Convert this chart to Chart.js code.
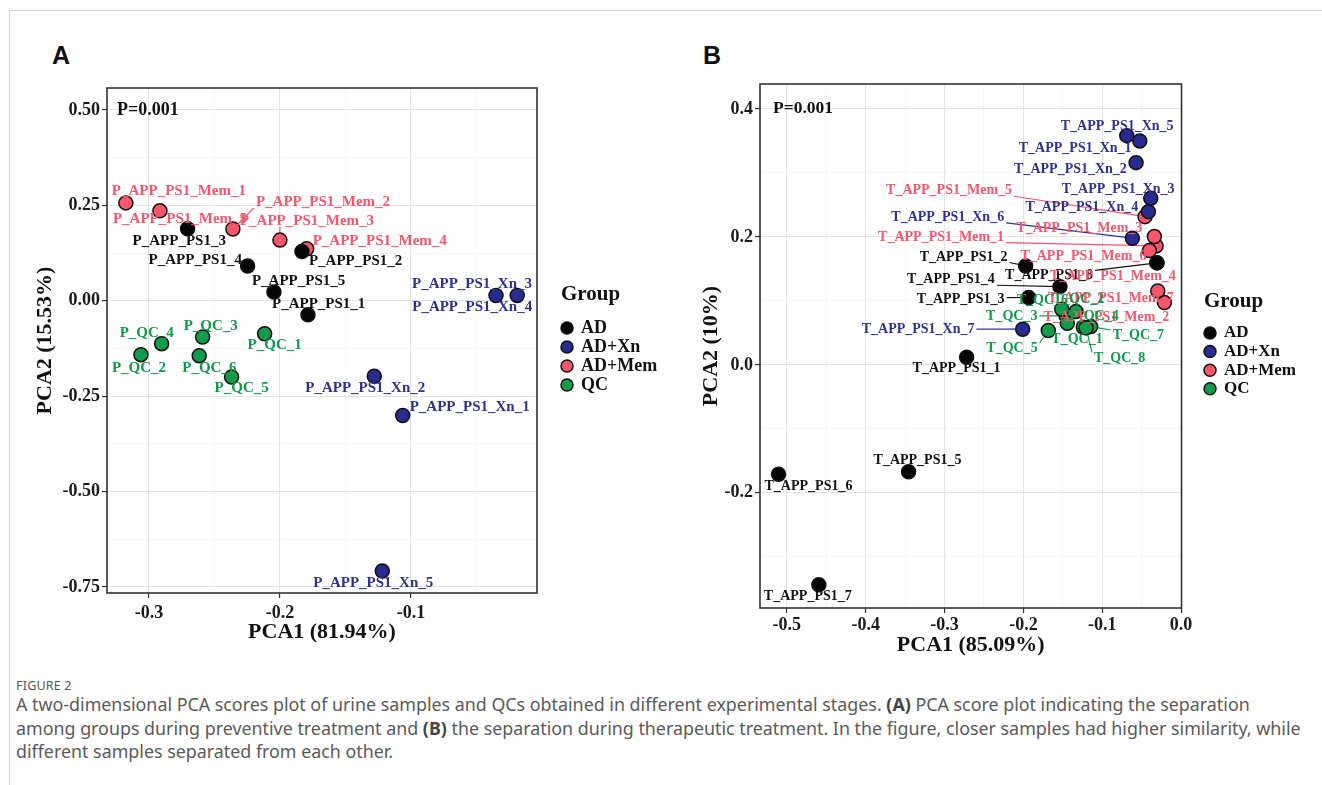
<!DOCTYPE html>
<html>
<head>
<meta charset="utf-8">
<script src="https://cdn.jsdelivr.net/npm/chart.js@4.4.1/dist/chart.umd.min.js"></script>
<style>
  html, body { margin: 0; padding: 0; background: #fff; }
  body { width: 1322px; height: 785px; position: relative; overflow: hidden; font-family: "Noto Sans", sans-serif; }
  .card { position: absolute; left: 9px; top: 10px; right: -2px; bottom: -2px; border-top: 1px solid #d4d4d4; border-left: 1px solid #d4d4d4; }
  .tag { position: absolute; font: bold 25px "Liberation Sans", Arial, sans-serif; color: #111; line-height: 25px; }
  canvas { position: absolute; }
  .figlabel { position: absolute; left: 16px; top: 678px; font-size: 12.5px; line-height: 16px; color: #555; letter-spacing: 0.2px; }
  .caption { position: absolute; left: 16px; top: 693px; width: 1300px; font-size: 17.85px; line-height: 23.5px; color: #5a5a5a; margin: 0; white-space: nowrap; }
  .caption b { color: #444; }
</style>
</head>
<body>
<div class="card"></div>
<div class="tag" style="left:52px;top:43px;">A</div>
<div class="tag" style="left:703px;top:43px;">B</div>
<canvas id="pcaA" width="660" height="590" style="left:20px;top:70px;"></canvas>
<canvas id="pcaB" width="642" height="610" style="left:680px;top:65px;"></canvas>
<div class="figlabel">FIGURE 2</div>
<p class="caption">A two-dimensional PCA scores plot of urine samples and QCs obtained in different experimental stages. <b>(A)</b> PCA score plot indicating the separation<br>among groups during preventive treatment and <b>(B)</b> the separation during therapeutic treatment. In the figure, closer samples had higher similarity, while<br>different samples separated from each other.</p>

<script>
const groupNames = ['AD', 'AD+Xn', 'AD+Mem', 'QC'];

// ---- panel A (preventive) ----
const aAdNames = ['P_APP_PS1_1', 'P_APP_PS1_2', 'P_APP_PS1_3', 'P_APP_PS1_4', 'P_APP_PS1_5'];
const aAdX = [-0.1786, -0.1832, -0.2705, -0.2247, -0.2046];
const aAdY = [-0.0366, 0.1291, 0.1885, 0.0908, 0.0228];

const aXnNames = ['P_APP_PS1_Xn_1', 'P_APP_PS1_Xn_2', 'P_APP_PS1_Xn_3', 'P_APP_PS1_Xn_4', 'P_APP_PS1_Xn_5'];
const aXnX = [-0.1063, -0.128, -0.0351, -0.0189, -0.1219];
const aXnY = [-0.301, -0.1979, 0.0139, 0.0139, -0.7086];

const aMemNames = ['P_APP_PS1_Mem_1', 'P_APP_PS1_Mem_2', 'P_APP_PS1_Mem_3', 'P_APP_PS1_Mem_4', 'P_APP_PS1_Mem_5'];
const aMemX = [-0.3176, -0.2359, -0.2, -0.1796, -0.2916];
const aMemY = [0.2565, 0.188, 0.1589, 0.1361, 0.2356];

const aQcNames = ['P_QC_1', 'P_QC_2', 'P_QC_3', 'P_QC_4', 'P_QC_5', 'P_QC_6'];
const aQcX = [-0.2117, -0.3061, -0.259, -0.2903, -0.2369, -0.2616];
const aQcY = [-0.0864, -0.1414, -0.0951, -0.1126, -0.1998, -0.144];

const aXTicks = [-0.3, -0.2, -0.1];
const aXTickLabels = ['-0.3', '-0.2', '-0.1'];
const aXMinor = [-0.25, -0.15, -0.05];
const aYTicks = [0.5, 0.25, 0, -0.25, -0.5, -0.75];
const aYTickLabels = ['0.50', '0.25', '0.00', '-0.25', '-0.50', '-0.75'];
const aYMinor = [0.375, 0.125, -0.125, -0.375, -0.625];

// ---- panel B (therapeutic) ----
const bAdNames = ['T_APP_PS1_1', 'T_APP_PS1_2', 'T_APP_PS1_3', 'T_APP_PS1_4', 'T_APP_PS1_5', 'T_APP_PS1_6', 'T_APP_PS1_7', 'T_APP_PS1_8'];
const bAdX = [-0.272, -0.1971, -0.1933, -0.1536, -0.3456, -0.5105, -0.4594, -0.0305];
const bAdY = [0.012, 0.1547, 0.1052, 0.1223, -0.1672, -0.1708, -0.3438, 0.1594];

const bXnNames = ['T_APP_PS1_Xn_1', 'T_APP_PS1_Xn_2', 'T_APP_PS1_Xn_3', 'T_APP_PS1_Xn_4', 'T_APP_PS1_Xn_5', 'T_APP_PS1_Xn_6', 'T_APP_PS1_Xn_7'];
const bXnX = [-0.0689, -0.0571, -0.0385, -0.0415, -0.0524, -0.0618, -0.2009];
const bXnY = [0.3583, 0.3161, 0.2605, 0.2395, 0.35, 0.198, 0.0558];

const bMemNames = ['T_APP_PS1_Mem_1', 'T_APP_PS1_Mem_2', 'T_APP_PS1_Mem_3', 'T_APP_PS1_Mem_4', 'T_APP_PS1_Mem_5', 'T_APP_PS1_Mem_6', 'T_APP_PS1_Mem_7'];
const bMemX = [-0.0317, -0.0212, -0.0339, -0.0308, -0.0457, -0.0402, -0.0296];
const bMemY = [0.1859, 0.0973, 0.2005, 0.1598, 0.2317, 0.1786, 0.1156];

const bQcNames = ['T_QC_1', 'T_QC_2', 'T_QC_3', 'T_QC_4', 'T_QC_5', 'T_QC_6', 'T_QC_7', 'T_QC_8'];
const bQcX = [-0.124, -0.1333, -0.1459, -0.1443, -0.1684, -0.1514, -0.1146, -0.1206];
const bQcY = [0.0589, 0.0833, 0.0766, 0.0652, 0.0536, 0.087, 0.0598, 0.0578];

const bXTicks = [-0.5, -0.4, -0.3, -0.2, -0.1, 0];
const bXTickLabels = ['-0.5', '-0.4', '-0.3', '-0.2', '-0.1', '0.0'];
const bXMinor = [-0.45, -0.35, -0.25, -0.15, -0.05];
const bYTicks = [0.4, 0.2, 0, -0.2];
const bYTickLabels = ['0.4', '0.2', '0.0', '-0.2'];
const bYMinor = [0.3, 0.1, -0.1, -0.3];

// styles
const pointFill = ['#050505', '#282c8f', '#f8566b', '#129b4b'];
const textFill = ['#111111', '#2e3192', '#f5566b', '#0e9a4a'];
const serif = '"Liberation Serif", "Times New Roman", serif';

// label placement (px from point: left edge of text, vertical middle, leader line)
const labelPosA = {
  'P_APP_PS1_Mem_1': [-14, -12], 'P_APP_PS1_Mem_5': [-47, 8], 'P_APP_PS1_Mem_2': [23, -27, 1],
  'P_APP_PS1_Mem_3': [-40, -19, 1], 'P_APP_PS1_Mem_4': [6, -8],
  'P_APP_PS1_3': [-55, 12], 'P_APP_PS1_2': [7, 10], 'P_APP_PS1_4': [-99, -6],
  'P_APP_PS1_5': [-22, -11], 'P_APP_PS1_1': [-36, -11],
  'P_APP_PS1_Xn_3': [-84, -11], 'P_APP_PS1_Xn_4': [-105, 12], 'P_APP_PS1_Xn_2': [-69, 12],
  'P_APP_PS1_Xn_1': [7, -8], 'P_APP_PS1_Xn_5': [-69, 12],
  'P_QC_4': [-42, -11], 'P_QC_3': [-19, -11], 'P_QC_1': [-17, 11], 'P_QC_2': [-29, 13],
  'P_QC_6': [-17, 12], 'P_QC_5': [-17, 11]
};
const labelPosB = {
  'T_APP_PS1_Xn_5': [-79, -15], 'T_APP_PS1_Xn_1': [-108, 13], 'T_APP_PS1_Xn_2': [-122, 7],
  'T_APP_PS1_Xn_3': [-89, -9], 'T_APP_PS1_Xn_4': [-123, -4], 'T_APP_PS1_Xn_6': [-241, -21, 1],
  'T_APP_PS1_Xn_7': [-161, 0, 1],
  'T_APP_PS1_Mem_5': [-259, -26, 1], 'T_APP_PS1_Mem_3': [-138, -8], 'T_APP_PS1_Mem_1': [-278, -9, 1],
  'T_APP_PS1_Mem_6': [-129, 6], 'T_APP_PS1_Mem_4': [-107, 14], 'T_APP_PS1_Mem_7': [-110, 7],
  'T_APP_PS1_Mem_2': [-121, 15],
  'T_APP_PS1_2': [-106, -9, 1], 'T_APP_PS1_4': [-153, -7, 1], 'T_APP_PS1_8': [-152, 13, 1],
  'T_APP_PS1_3': [-112, 2, 1], 'T_APP_PS1_1': [-54, 11], 'T_APP_PS1_5': [-35, -11],
  'T_APP_PS1_6': [-14, 12], 'T_APP_PS1_7': [-55, 12],
  'T_QC_6': [-45, -9], 'T_QC_2': [-23, -12], 'T_QC_3': [-80, 1, 1], 'T_QC_4': [0, -7],
  'T_QC_5': [-62, 18, 1], 'T_QC_1': [-32, 12], 'T_QC_7': [22, 9, 1], 'T_QC_8': [8, 30, 1]
};

function points(names, xs, ys) {
  return names.map((n, i) => ({ x: xs[i], y: ys[i], name: n }));
}

function buildSets(groups) {
  return groups.map((g, i) => ({
    label: groupNames[i],
    data: g,
    backgroundColor: pointFill[i],
    borderColor: '#111',
    borderWidth: 1.5,
    pointRadius: 7
  }));
}

function axis(major, labels, minor, min, max, tickPad, extra) {
  const all = major.concat(minor).sort((a, b) => a - b);
  const isMajor = v => major.some(m => Math.abs(m - v) < 1e-9);
  return Object.assign({
    type: 'linear', min: min, max: max,
    afterBuildTicks: s => { s.ticks = all.map(v => ({ value: v })); },
    ticks: {
      autoSkip: false, maxRotation: 0, color: '#1a1a1a', padding: tickPad,
      font: { family: serif, size: 18, weight: 'bold' },
      callback: v => {
        const k = major.findIndex(m => Math.abs(m - v) < 1e-9);
        return k < 0 ? '' : labels[k];
      }
    },
    grid: {
      color: c => (c.tick && isMajor(c.tick.value)) ? '#e4e4e4' : '#f3f3f3',
      lineWidth: c => (c.tick && isMajor(c.tick.value)) ? 1.1 : 0.7,
      tickColor: c => (c.tick && isMajor(c.tick.value)) ? '#333' : 'rgba(0,0,0,0)',
      tickLength: 5, tickWidth: 1.2
    },
    border: { display: false }
  }, extra);
}

const pcaExtras = {
  id: 'pcaExtras',
  beforeDatasetsDraw(chart, args, o) {
    const ctx = chart.ctx;
    ctx.save();
    ctx.font = 'bold ' + o.labelSize + 'px ' + serif;
    chart.data.datasets.forEach((ds, i) => {
      const meta = chart.getDatasetMeta(i);
      ds.data.forEach((pt, j) => {
        const pos = o.labels[pt.name];
        if (!pos || !pos[2]) return;
        const el = meta.data[j];
        const w = ctx.measureText(pt.name).width;
        const x0 = el.x + pos[0], x1 = x0 + w;
        const y0 = el.y + pos[1] - o.labelSize * 0.4, y1 = el.y + pos[1] + o.labelSize * 0.4;
        const tx = Math.max(x0 - 2, Math.min(el.x, x1 + 2));
        const ty = Math.max(y0, Math.min(el.y, y1));
        ctx.strokeStyle = textFill[i];
        ctx.lineWidth = 1.2;
        ctx.beginPath();
        ctx.moveTo(el.x, el.y);
        ctx.lineTo(tx, ty);
        ctx.stroke();
      });
    });
    ctx.restore();
  },
  afterDatasetsDraw(chart, args, o) {
    const ctx = chart.ctx;
    const a = chart.chartArea;
    ctx.save();
    // point labels
    ctx.font = 'bold ' + o.labelSize + 'px ' + serif;
    ctx.textAlign = 'left';
    ctx.textBaseline = 'middle';
    chart.data.datasets.forEach((ds, i) => {
      const meta = chart.getDatasetMeta(i);
      ctx.fillStyle = textFill[i];
      ds.data.forEach((pt, j) => {
        const pos = o.labels[pt.name] || [8, 0];
        const el = meta.data[j];
        ctx.fillText(pt.name, el.x + pos[0], el.y + pos[1]);
      });
    });
    // panel border
    ctx.strokeStyle = '#333';
    ctx.lineWidth = 1.6;
    ctx.strokeRect(a.left, a.top, a.right - a.left, a.bottom - a.top);
    // p value
    ctx.fillStyle = '#111';
    ctx.font = 'bold ' + o.pSize + 'px ' + serif;
    ctx.fillText('P=0.001', o.pX, o.pY);
    // legend
    ctx.font = 'bold ' + o.legTitleSize + 'px ' + serif;
    ctx.fillText('Group', o.legX, o.legY);
    ctx.font = 'bold ' + o.legSize + 'px ' + serif;
    groupNames.forEach((g, i) => {
      const y = o.legY0 + i * o.legStep;
      ctx.beginPath();
      ctx.arc(o.legX + 6, y, 6, 0, Math.PI * 2);
      ctx.fillStyle = pointFill[i];
      ctx.fill();
      ctx.lineWidth = 1.5;
      ctx.strokeStyle = '#111';
      ctx.stroke();
      ctx.fillStyle = '#111';
      ctx.fillText(g, o.legX + 20, y);
    });
    ctx.restore();
  }
};

new Chart(document.getElementById('pcaA'), {
  type: 'scatter',
  data: {
    datasets: buildSets([
      points(aAdNames, aAdX, aAdY),
      points(aXnNames, aXnX, aXnY),
      points(aMemNames, aMemX, aMemY),
      points(aQcNames, aQcX, aQcY)
    ])
  },
  options: {
    responsive: false, animation: false, events: [], devicePixelRatio: 1,
    layout: { padding: { top: 18, right: 143, bottom: 0, left: 0 } },
    plugins: {
      legend: { display: false }, tooltip: { enabled: false },
      pcaExtras: { labels: labelPosA, labelSize: 15, pSize: 18, pX: 97, pY: 40,
        legX: 541, legY: 225, legTitleSize: 21, legSize: 18, legY0: 258, legStep: 19 }
    },
    scales: {
      x: axis(aXTicks, aXTickLabels, aXMinor, -0.332, -0.0038, 5, {
        afterFit: s => { s.height = 67; },
        title: { display: true, text: 'PCA1 (81.94%)', color: '#111', padding: { top: 0, bottom: 14 },
          font: { family: serif, size: 22, weight: 'bold' } }
      }),
      y: axis(aYTicks, aYTickLabels, aYMinor, -0.766, 0.5576, 2, {
        afterFit: s => { s.width = 87; },
        title: { display: true, text: 'PCA2 (15.53%)', color: '#111', padding: { top: 12, bottom: 0 },
          font: { family: serif, size: 22, weight: 'bold' } }
      })
    }
  },
  plugins: [pcaExtras]
});

new Chart(document.getElementById('pcaB'), {
  type: 'scatter',
  data: {
    datasets: buildSets([
      points(bAdNames, bAdX, bAdY),
      points(bXnNames, bXnX, bXnY),
      points(bMemNames, bMemX, bMemY),
      points(bQcNames, bQcX, bQcY)
    ])
  },
  options: {
    responsive: false, animation: false, events: [], devicePixelRatio: 1,
    layout: { padding: { top: 19, right: 140.5, bottom: 0, left: 0 } },
    plugins: {
      legend: { display: false }, tooltip: { enabled: false },
      pcaExtras: { labels: labelPosB, labelSize: 14, pSize: 17.5, pX: 93, pY: 43,
        legX: 524, legY: 237, legTitleSize: 21, legSize: 17, legY0: 268, legStep: 18.6 }
    },
    scales: {
      x: axis(bXTicks, bXTickLabels, bXMinor, -0.534, 0.0005, 2, {
        afterFit: s => { s.height = 67; },
        title: { display: true, text: 'PCA1 (85.09%)', color: '#111', padding: { top: 0, bottom: 16 },
          font: { family: serif, size: 22, weight: 'bold' } }
      }),
      y: axis(bYTicks, bYTickLabels, bYMinor, -0.38, 0.439, 2, {
        afterFit: s => { s.width = 80; },
        title: { display: true, text: 'PCA2 (10%)', color: '#111', padding: { top: 18, bottom: 0 },
          font: { family: serif, size: 22, weight: 'bold' } }
      })
    }
  },
  plugins: [pcaExtras]
});
</script>
</body>
</html>
